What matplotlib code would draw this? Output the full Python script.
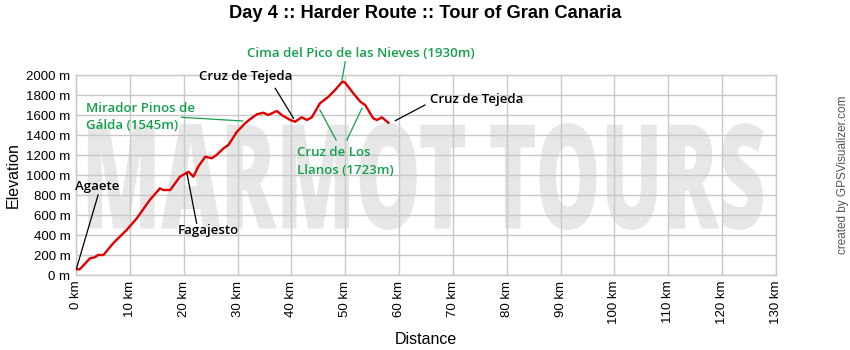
import numpy as np
import matplotlib
matplotlib.use("Agg")
import matplotlib.pyplot as plt
from matplotlib.patheffects import AbstractPathEffect
from matplotlib.transforms import Affine2D

# === Data ===
dist_km = [0.0, 0.7, 2.6, 3.5, 4.1, 5.1, 6.9, 9.4, 11.3, 13.7, 15.6, 16.2, 17.5,
           19.3, 20.9, 21.8, 22.7, 24.0, 25.2, 26.1, 27.4, 28.3, 29.9, 31.4,
           32.3, 33.6, 34.8, 35.7, 37.3, 38.2, 39.8, 40.7, 41.9, 42.9, 43.8,
           45.3, 46.9, 48.1, 49.5, 50.0, 51.5, 52.8, 53.7, 55.2, 55.9, 56.8, 58.0]
elev_m = [57, 57, 167, 177, 200, 200, 317, 450, 567, 750, 867, 850, 850,
          983, 1033, 983, 1083, 1183, 1167, 1200, 1267, 1300, 1433, 1517,
          1557, 1607, 1623, 1600, 1640, 1600, 1550, 1533, 1577, 1550, 1577,
          1717, 1783, 1850, 1935, 1923, 1817, 1733, 1700, 1567, 1550, 1577, 1523]

x_ticks = np.arange(0, 131, 10)
y_ticks = np.arange(0, 2001, 200)

title = "Day 4 :: Harder Route :: Tour of Gran Canaria"
watermark = "MARMOT TOURS"

GREEN = "#14a04a"
GRID = "#c8c8c8"
LBL_FONT = ["Open Sans", "DejaVu Sans"]


class FitBox(AbstractPathEffect):
    """Stretch the text path so it fills a box given in data coords."""
    def __init__(self, ax, box):
        super().__init__()
        self.ax = ax
        self.box = box

    def draw_path(self, renderer, gc, tpath, affine, rgbFace=None):
        ext = tpath.get_extents(affine)
        (x0, y0), (x1, y1) = self.ax.transData.transform(
            [self.box[:2], self.box[2:]])
        fit = (Affine2D().translate(-ext.x0, -ext.y0)
               .scale((x1 - x0) / ext.width, (y1 - y0) / ext.height)
               .translate(x0, y0))
        renderer.draw_path(gc, tpath, affine + fit, rgbFace)


plt.rcParams['font.family'] = ['Liberation Sans', 'DejaVu Sans']

fig = plt.figure(figsize=(8.5, 3.5), dpi=100)
ax = fig.add_axes([76 / 850, 75 / 350, 700 / 850, 200 / 350])

ax.set_xlim(0, 130)
ax.set_ylim(0, 2000)
ax.set_xticks(x_ticks)
ax.set_yticks(y_ticks)
ax.set_xticklabels([f"{v} km" for v in x_ticks], rotation=90)
ax.set_yticklabels([f"{v} m" for v in y_ticks])
ax.tick_params(length=0, labelsize=9.5, pad=4)
ax.grid(True, color=GRID, linewidth=1.0)
ax.set_axisbelow(True)
for s in ax.spines.values():
    s.set_color(GRID)
    s.set_linewidth(1.0)

ax.set_xlabel("Distance", fontsize=11.5, labelpad=6)
ax.set_ylabel("Elevation", fontsize=11.5, labelpad=4)
fig.text(0.5, 1 - 14 / 350, title, ha='center', va='center',
         fontsize=13.2, fontweight='bold')
fig.text(843 / 850, 0.5, "created by GPSVisualizer.com", rotation=90,
         ha='center', va='center', fontsize=8.5, color='#555555')

# watermark, squeezed into the box it fills in the reference
wm = ax.text(80, 450, watermark, fontsize=20, fontweight=800,
             family=["Open Sans", "DejaVu Sans"], color='#e7e7e7', zorder=0.2)
wm.set_path_effects([FitBox(ax, (2.2, 450, 127.6, 1520))])

# profile
ax.plot(dist_km, elev_m, color='#e00000', linewidth=1.7, zorder=3)


def leader(p0, p1, color='black'):
    ax.plot([p0[0], p1[0]], [p0[1], p1[1]], color=color, lw=0.9,
            zorder=4, clip_on=False)


def text(txt, xy, color='black', ha='center'):
    ax.text(xy[0], xy[1], txt, ha=ha, va='center', fontsize=9.5,
            fontweight='semibold', family=LBL_FONT, color=color,
            linespacing=1.45, zorder=4, clip_on=False)


text("Agaete", (-0.2, 883), ha='left')
leader((4.1, 800), (0.1, 67))

text("Fagajesto", (24.5, 443))
leader((22.4, 517), (20.6, 1017))

text("Mirador Pinos de\nGálda (1545m)", (1.9, 1578), color=GREEN, ha='left')
leader((19.6, 1577), (31.0, 1540), color=GREEN)

text("Cruz de Tejeda", (31.5, 1983))
leader((37.0, 1867), (40.4, 1567))

text("Cima del Pico de las Nieves (1930m)", (52.9, 2217), color=GREEN)
leader((50.0, 2133), (49.4, 1950), color=GREEN)

text("Cruz de Los\nLlanos (1723m)", (41.0, 1133), color=GREEN, ha='left')
leader((48.3, 1350), (45.3, 1650), color=GREEN)
leader((50.3, 1350), (53.1, 1667), color=GREEN)

text("Cruz de Tejeda", (65.8, 1750), ha='left')
leader((64.8, 1700), (59.3, 1543))

fig.savefig("out.png", dpi=100, facecolor='white')
